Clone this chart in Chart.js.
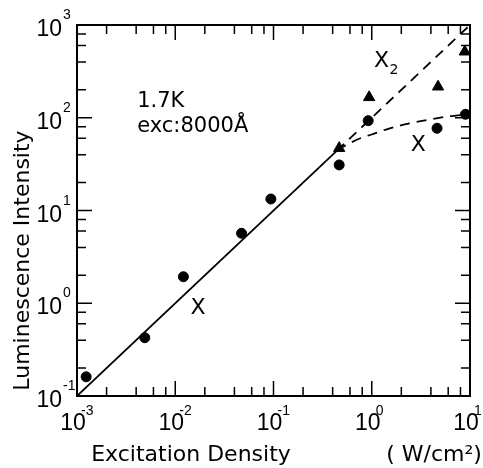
<!DOCTYPE html>
<html>
<head>
<meta charset="utf-8">
<script src="https://cdn.jsdelivr.net/npm/chart.js@4.4.1/dist/chart.umd.min.js"></script>
<style>
  html, body { margin: 0; padding: 0; background: #fff; }
  #wrap { width: 483px; height: 468px; }
</style>
</head>
<body>
<div id="wrap"><canvas id="lum-chart"></canvas></div>
<script>
// measured points (W/cm2, arb. units)
const circleX = [0.00124, 0.0049, 0.0121, 0.0473, 0.094, 0.466, 0.92, 4.62, 9.0];
const circleY = [0.161, 0.425, 1.93, 5.68, 13.3, 31, 93, 77, 109];
const triX = [0.466, 0.94, 4.73, 8.85];
const triY = [47, 166, 216, 515];

// guide lines
const fitX = [0.001, 0.44];
const fitY = [0.1, 44];
const x2LineX = [0.44, 10];
const x2LineY = [44, 1000];
const xCurveX = [0.44, 0.79, 1.0, 1.47, 2.3, 3.75, 5.8, 8.2, 10];
const xCurveY = [45, 61, 66, 76, 86, 95, 103, 107, 111];

// axis ticks
const xDecades = [-3, -2, -1, 0, 1];
const yDecades = [-1, 0, 1, 2, 3];
const minorSteps = [2, 4, 6, 8];

// notes inside the plot
const notes = [
  { text: "1.7K", x: 0.0041, y: 131 },
  { text: "exc:8000Å", x: 0.0041, y: 70 }
];
const curveLabels = [
  { text: "X", sub: "", x: 0.0171, y: 0.88 },
  { text: "X", sub: "", x: 2.97, y: 50.8 },
  { text: "X", sub: "2", x: 1.26, y: 402 }
];

const pts = (xs, ys) => xs.map((x, i) => ({ x: x, y: ys[i] }));

const TXT = '"DejaVu Sans", sans-serif';
const NUM = '"Liberation Sans", Arial, sans-serif';

function tickValues(decades) {
  const out = [];
  decades.forEach(function(d) {
    out.push({ v: Math.pow(10, d), major: true, exp: d });
    if (d < decades[decades.length - 1]) {
      minorSteps.forEach(function(m) { out.push({ v: m * Math.pow(10, d), major: false }); });
    }
  });
  return out;
}

const framePlugin = {
  id: "frame",
  afterDatasetsDraw(chart) {
    const ctx = chart.ctx;
    const a = chart.chartArea;
    const xs = chart.scales.x, ys = chart.scales.y;
    ctx.save();
    ctx.strokeStyle = "#000";
    ctx.fillStyle = "#000";

    // ticks on all four sides, pointing in
    ctx.lineWidth = 1.5;
    tickValues(xDecades).forEach(function(t) {
      const px = xs.getPixelForValue(t.v);
      const len = t.major ? 15 : 9;
      ctx.beginPath();
      ctx.moveTo(px, a.bottom); ctx.lineTo(px, a.bottom - len);
      ctx.moveTo(px, a.top); ctx.lineTo(px, a.top + len);
      ctx.stroke();
    });
    tickValues(yDecades).forEach(function(t) {
      const py = ys.getPixelForValue(t.v);
      const len = t.major ? 15 : 9;
      ctx.beginPath();
      ctx.moveTo(a.left, py); ctx.lineTo(a.left + len, py);
      ctx.moveTo(a.right, py); ctx.lineTo(a.right - len, py);
      ctx.stroke();
    });

    // frame
    ctx.lineWidth = 2;
    ctx.strokeRect(a.left, a.top, a.right - a.left, a.bottom - a.top);

    // tick labels 10^n
    ctx.textBaseline = "alphabetic";
    xDecades.forEach(function(d) {
      const px = xs.getPixelForValue(Math.pow(10, d));
      ctx.font = "23px " + NUM;
      ctx.textAlign = "center";
      ctx.fillText("10", px - 4, a.bottom + 34);
      ctx.font = "14px " + NUM;
      ctx.textAlign = "left";
      ctx.fillText(d < 0 ? "-" + (-d) : String(d), px + 4, a.bottom + 19);
    });
    yDecades.forEach(function(d) {
      const py = ys.getPixelForValue(Math.pow(10, d));
      ctx.font = "23px " + NUM;
      ctx.textAlign = "right";
      ctx.fillText("10", a.left - 15, py + 11);
      ctx.font = "14px " + NUM;
      ctx.textAlign = "left";
      ctx.fillText(d < 0 ? "-" + (-d) : String(d), a.left - 14, py - 6);
    });

    // axis titles
    ctx.font = "22px " + TXT;
    ctx.textAlign = "center";
    ctx.textBaseline = "middle";
    ctx.fillText("Excitation Density", 191, a.bottom + 59);
    ctx.fillText("( W/cm²)", 434, a.bottom + 59);
    ctx.save();
    ctx.translate(23, (a.top + a.bottom) / 2 + 50);
    ctx.rotate(-Math.PI / 2);
    ctx.fillText("Luminescence Intensity", 0, 0);
    ctx.restore();

    // notes
    ctx.font = "21px " + TXT;
    ctx.textAlign = "left";
    ctx.textBaseline = "alphabetic";
    notes.forEach(function(n) {
      ctx.fillText(n.text, xs.getPixelForValue(n.x), ys.getPixelForValue(n.y));
    });
    curveLabels.forEach(function(l) {
      const px = xs.getPixelForValue(l.x), py = ys.getPixelForValue(l.y);
      ctx.font = "22px " + TXT;
      ctx.textAlign = "center";
      ctx.textBaseline = "middle";
      ctx.fillText(l.text, px, py);
      if (l.sub) {
        ctx.font = "14px " + TXT;
        ctx.textAlign = "left";
        ctx.fillText(l.sub, px + 8, py + 9);
      }
    });
    ctx.restore();
  }
};

new Chart(document.getElementById("lum-chart"), {
  type: "scatter",
  data: {
    datasets: [
      {
        data: pts(circleX, circleY),
        pointStyle: "circle",
        pointRadius: 5,
        backgroundColor: "#000",
        borderColor: "#000",
        showLine: false
      },
      {
        data: pts(triX, triY),
        pointStyle: "triangle",
        pointRadius: 6.5,
        backgroundColor: "#000",
        borderColor: "#000",
        showLine: false
      },
      {
        data: pts(fitX, fitY),
        showLine: true,
        pointRadius: 0,
        borderColor: "#000",
        borderWidth: 1.8
      },
      {
        data: pts(x2LineX, x2LineY),
        showLine: true,
        pointRadius: 0,
        borderColor: "#000",
        borderWidth: 1.8,
        borderDash: [10, 7]
      },
      {
        data: pts(xCurveX, xCurveY),
        showLine: true,
        pointRadius: 0,
        borderColor: "#000",
        borderWidth: 1.8,
        borderDash: [10, 7],
        cubicInterpolationMode: "monotone"
      }
    ]
  },
  options: {
    responsive: true,
    maintainAspectRatio: false,
    animation: false,
    layout: {
      padding: { left: 77, top: 25, right: 13, bottom: 72 }
    },
    plugins: {
      legend: { display: false },
      tooltip: { enabled: false }
    },
    scales: {
      x: { type: "logarithmic", min: 0.001, max: 10, display: false },
      y: { type: "logarithmic", min: 0.1, max: 1000, display: false }
    }
  },
  plugins: [framePlugin]
});
</script>
</body>
</html>
